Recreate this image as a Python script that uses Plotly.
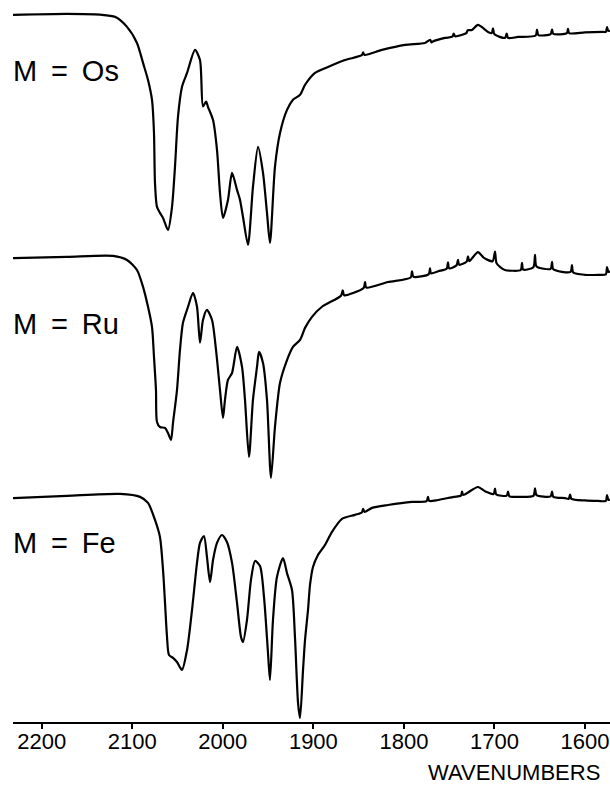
import plotly.graph_objects as go

# ---------------- data ----------------
os_wn = [2231.7, 2172.0, 2135.6, 2119.1, 2105.8, 2094.8, 2088.1, 2082.6, 2078.2, 2076.0,
         2074.9, 2072.7, 2069.4, 2066.0, 2060.5, 2056.1, 2052.8, 2049.5, 2045.1, 2039.5,
         2030.7, 2025.2, 2021.9, 2018.5, 2016.4, 2010.8, 2006.4, 2003.1, 1999.8, 1994.3,
         1989.8, 1984.3, 1981.0, 1977.7, 1972.2, 1966.7, 1961.1, 1955.6, 1951.2, 1947.9,
         1942.4, 1936.8, 1929.1, 1922.5, 1914.7, 1909.2, 1898.2, 1883.8, 1865.0, 1846.5,
         1845.0, 1843.5, 1824.2, 1798.8, 1776.7, 1771.0, 1769.5, 1768.0, 1754.6, 1746.5,
         1745.0, 1743.5, 1735.8, 1731.0, 1729.5, 1724.8, 1718.2, 1707.1, 1703.0, 1701.6,
         1700.0, 1688.4, 1686.5, 1685.0, 1674.0, 1654.5, 1653.0, 1651.5, 1638.0, 1636.4,
         1635.0, 1620.0, 1618.8, 1617.5, 1600.0, 1580.0, 1577.0, 1575.7, 1574.5, 1572.4]
os_t = [97.6, 98.0, 97.7, 96.8, 92.6, 85.9, 77.6, 70.5, 62.2, 48.4,
        27.6, 17.6, 15.1, 13.0, 8.0, 17.6, 34.3, 55.1, 67.6, 73.4,
        83.0, 78.8, 59.5, 61.5, 59.3, 53.8, 41.3, 23.4, 13.0, 20.5,
        31.8, 24.7, 20.5, 13.4, 1.8, 25.9, 42.6, 31.8, 15.1, 2.6,
        34.3, 48.4, 58.0, 62.2, 64.3, 68.4, 73.4, 75.9, 78.8, 80.8,
        82.0, 80.9, 83.0, 85.1, 85.9, 87.2, 86.1, 86.5, 88.0, 88.5,
        89.8, 88.7, 89.3, 90.0, 91.2, 91.3, 93.4, 90.5, 90.0, 92.0,
        89.5, 88.0, 89.8, 88.0, 88.4, 89.0, 91.5, 89.2, 89.6, 91.5,
        89.7, 90.0, 91.8, 90.0, 90.3, 90.5, 90.5, 92.5, 91.0, 91.0]

ru_wn = [2231.7, 2172.1, 2121.3, 2105.8, 2094.8, 2088.1, 2082.6, 2078.2, 2076.0, 2073.8,
         2072.7, 2069.4, 2063.8, 2060.5, 2057.2, 2055.0, 2050.6, 2047.3, 2044.0, 2038.4,
         2032.9, 2028.5, 2025.2, 2021.9, 2017.5, 2011.9, 2007.5, 2003.1, 1999.8, 1997.6,
         1994.3, 1989.8, 1984.3, 1978.8, 1975.5, 1971.1, 1966.7, 1962.2, 1960.0, 1955.6,
         1951.2, 1946.8, 1942.4, 1936.8, 1929.1, 1922.5, 1914.7, 1909.2, 1901.5, 1890.5,
         1869.5, 1867.5, 1866.0, 1844.5, 1842.9, 1841.5, 1817.6, 1792.5, 1791.1, 1789.5,
         1772.5, 1771.2, 1770.0, 1762.0, 1752.8, 1751.3, 1750.0, 1741.8, 1740.3, 1739.0,
         1730.7, 1729.2, 1727.8, 1718.2, 1712.0, 1702.0, 1699.4, 1697.5, 1688.4, 1680.0,
         1671.0, 1669.6, 1668.2, 1657.0, 1655.2, 1653.5, 1638.0, 1636.4, 1635.0, 1616.0,
         1614.4, 1613.0, 1600.0, 1585.0, 1577.0, 1575.7, 1574.2, 1572.4]
ru_t = [96.3, 96.8, 97.2, 95.5, 91.3, 84.3, 76.0, 67.6, 55.1, 41.3,
        28.0, 25.9, 25.5, 23.4, 20.5, 27.6, 41.3, 58.0, 69.3, 76.0,
        81.8, 76.0, 61.0, 70.5, 74.7, 70.5, 58.0, 41.3, 29.7, 37.2,
        45.5, 48.4, 59.3, 51.0, 37.2, 13.4, 37.2, 51.0, 57.2, 52.6,
        37.2, 4.7, 25.9, 44.3, 53.8, 59.3, 62.2, 67.2, 71.8, 76.0,
        80.6, 82.8, 80.8, 83.8, 86.3, 84.0, 86.3, 88.2, 90.8, 88.5,
        89.6, 92.0, 89.9, 90.8, 91.8, 94.5, 92.0, 93.3, 95.5, 93.5,
        94.8, 97.0, 95.0, 98.8, 96.5, 95.0, 99.0, 94.0, 91.3, 91.0,
        91.3, 94.3, 91.5, 92.5, 97.6, 92.8, 91.8, 94.7, 91.6, 90.5,
        93.4, 90.3, 89.3, 89.3, 89.5, 92.5, 90.5, 90.8]

fe_wn = [2231.7, 2172.1, 2113.5, 2091.4, 2082.6, 2074.9, 2069.4, 2066.0, 2063.8, 2061.6,
         2059.4, 2055.0, 2050.6, 2045.1, 2039.5, 2034.0, 2028.5, 2025.2, 2020.8, 2017.5,
         2014.1, 2010.8, 2006.4, 2000.9, 1995.4, 1989.8, 1984.3, 1979.9, 1977.7, 1973.3,
         1968.9, 1964.4, 1958.9, 1954.5, 1950.1, 1947.9, 1944.6, 1940.2, 1933.5, 1929.1,
         1923.6, 1920.3, 1916.9, 1914.7, 1911.4, 1909.2, 1905.9, 1903.7, 1900.4, 1894.9,
         1887.1, 1879.4, 1868.4, 1854.0, 1846.5, 1845.0, 1843.5, 1835.2, 1817.6, 1791.1,
         1775.0, 1773.4, 1772.0, 1762.3, 1745.0, 1737.0, 1735.8, 1734.5, 1718.2, 1710.0,
         1701.0, 1699.4, 1698.0, 1686.5, 1685.0, 1683.5, 1675.0, 1657.0, 1655.2, 1653.5,
         1638.0, 1636.4, 1635.0, 1622.1, 1618.0, 1616.5, 1615.0, 1600.0, 1585.6, 1577.0,
         1575.7, 1574.2, 1572.4]
fe_t = [96.3, 97.2, 98.0, 96.8, 94.3, 87.2, 80.1, 66.3, 52.6, 38.4,
        30.9, 29.7, 28.0, 24.7, 33.0, 49.7, 69.3, 77.6, 80.5, 71.8,
        61.3, 70.5, 77.6, 80.9, 78.0, 69.3, 52.6, 38.4, 36.3, 45.5,
        62.2, 70.1, 68.0, 55.0, 31.8, 20.5, 45.5, 63.4, 71.3, 65.0,
        58.0, 38.4, 10.9, 4.7, 24.7, 37.2, 49.7, 60.1, 67.6, 72.6,
        76.8, 82.2, 87.6, 89.3, 90.3, 91.8, 90.5, 92.2, 93.4, 94.7,
        95.0, 96.8, 95.1, 95.5, 96.8, 97.3, 99.0, 97.6, 100.9, 99.0,
        98.0, 100.2, 97.8, 97.3, 99.0, 97.0, 96.8, 97.2, 100.3, 97.5,
        97.0, 99.0, 96.8, 96.3, 96.0, 97.7, 96.0, 95.3, 95.1, 95.1,
        97.5, 95.6, 95.6]

labels = ["M \u2009= \u2009Os", "M \u2009= \u2009Ru", "M \u2009= \u2009Fe"]
tick_vals = [2200, 2100, 2000, 1900, 1800, 1700, 1600]
tick_text = ["2200", "2100", "2000", "1900", "1800", "1700", "1600"]
x_title = "WAVENUMBERS"

# ---------------- figure ----------------
FONT = "Liberation Sans, Arial, Helvetica, sans-serif"
spectra = [(os_wn, os_t, 200), (ru_wn, ru_t, 100), (fe_wn, fe_t, 0)]

fig = go.Figure()
for wn, t, off in spectra:
    fig.add_trace(go.Scatter(
        x=wn, y=[v + off for v in t], mode="lines",
        line=dict(color="black", width=2.2, shape="spline", smoothing=0.7),
        hoverinfo="skip", showlegend=False))

label_y = [0.9017, 0.5512, 0.2479]
for txt, yy in zip(labels, label_y):
    fig.add_annotation(text=txt, xref="paper", yref="paper", x=0, y=yy,
                       xanchor="left", yanchor="middle", showarrow=False, xshift=-2,
                       font=dict(family=FONT, size=29, color="black"))

fig.add_annotation(text=x_title, xref="paper", yref="paper", x=0.9866, y=-0.0705,
                   xanchor="right", yanchor="middle", showarrow=False,
                   font=dict(family=FONT, size=22, color="black"))

fig.update_layout(
    width=610, height=788,
    margin=dict(l=13, r=0, t=0, b=66),
    paper_bgcolor="white", plot_bgcolor="white",
    xaxis=dict(range=[2231.7, 1572.4], tickvals=tick_vals, ticktext=tick_text,
               ticks="outside", ticklen=5, tickwidth=1.5, tickcolor="black",
               showline=True, linecolor="black", linewidth=2,
               showgrid=False, zeroline=False, ticklabelstandoff=-6,
               tickfont=dict(family=FONT, size=22, color="black")),
    yaxis=dict(range=[3, 303.8], visible=False, showgrid=False, zeroline=False),
)

fig.write_html("out.html", config={"displayModeBar": False},
               post_script="document.body.style.margin='0';document.body.style.overflow='hidden';")
